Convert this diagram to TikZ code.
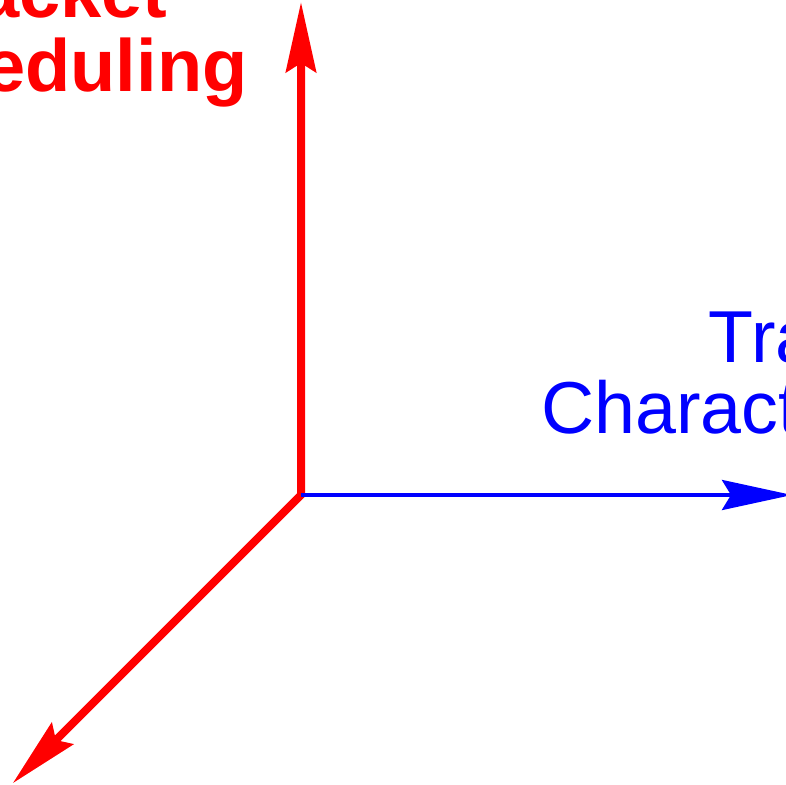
\documentclass[tikz,border=0pt]{standalone}
\usepackage{fontspec}
\setmainfont{Liberation Sans}
\usetikzlibrary{arrows.meta}
% two centred lines whose baseline is the last line, with a fixed line pitch
\newcommand\twolines[3]{\vbox{\baselineskip=#1\lineskiplimit=-100pt
  \halign{\hfil##\hfil\cr #2\cr #3\cr}}}
\tikzset{axtip/.tip={Stealth[length=52.5pt,width=22.5pt,inset=6.75pt]}}
\begin{document}
\begin{tikzpicture}[x=0.75pt,y=-0.75pt,
  redaxis/.style={draw=red,fill=red,line width=6pt},
  blueaxis/.style={draw=blue,fill=blue,line width=3pt},
  redlabel/.style={text=red,inner sep=0pt,anchor=base,
    font=\fontsize{55.5pt}{55.8pt}\selectfont\bfseries},
  bluelabel/.style={text=blue,inner sep=0pt,anchor=base,
    font=\fontsize{55.2pt}{52.7pt}\selectfont}]
\useasboundingbox (0,0) rectangle (786,785);
\clip (0,0) rectangle (786,785);

% axis end points
\coordinate (O) at (301,495);
\coordinate (up) at (301,2);
\coordinate (down) at (12.7,783.3);
\coordinate (right) at (792,495);

% red axes: vertical and diagonal
\draw[draw=red,line width=6pt,axtip-axtip] (up) -- (O) -- (down);
% blue horizontal axis
\draw[draw=blue,line width=3pt,-axtip] (O) -- (right);

% axis labels
\node[redlabel] (sched) at (48,91.7) {\twolines{55.8pt}{Packet}{Scheduling}};
\node[bluelabel] (traffic) at (809,433) {\twolines{52.7pt}{Traffic}{Characterization}};
\end{tikzpicture}
\end{document}
